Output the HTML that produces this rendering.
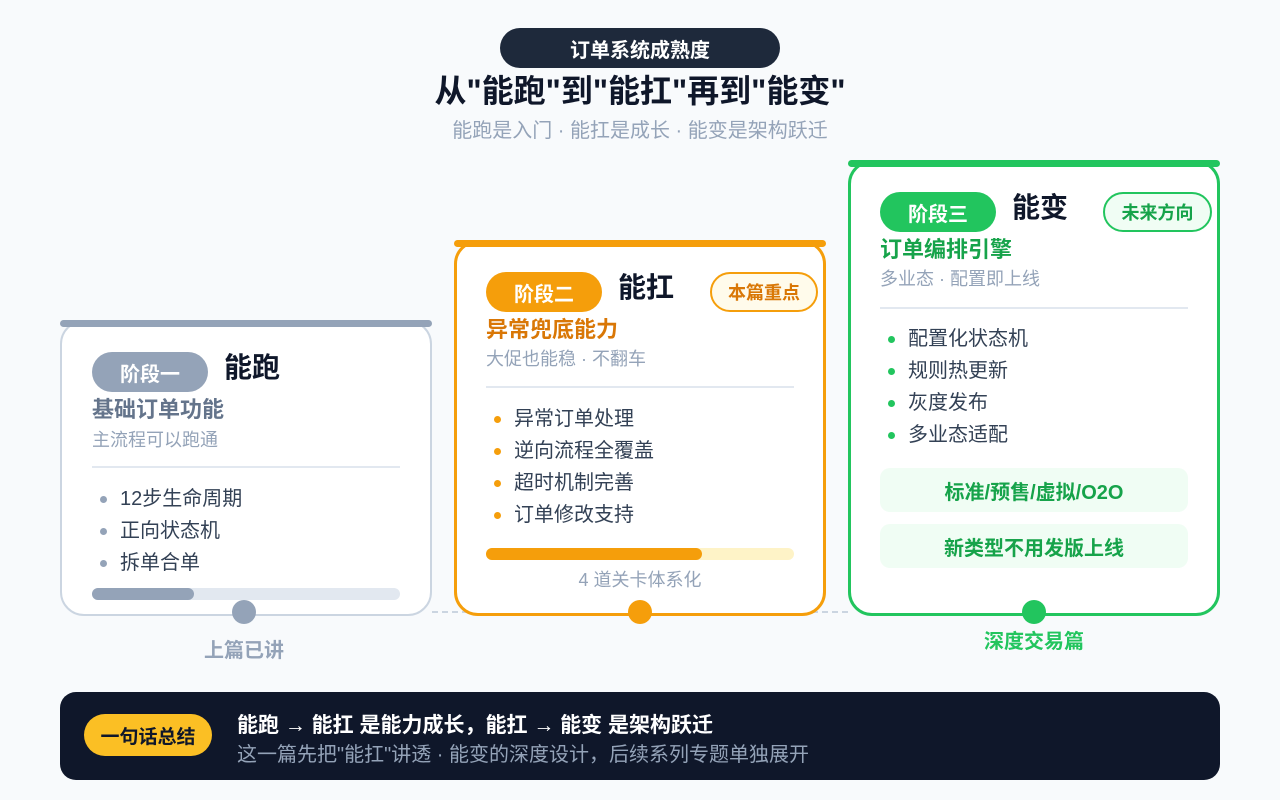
<!DOCTYPE html>
<html><head><meta charset="utf-8"><style>
*{margin:0;padding:0;box-sizing:border-box}
body{width:1280px;height:800px;background:#f8fafc;font-family:"Liberation Sans","Noto Sans CJK SC",sans-serif;position:relative;overflow:hidden}
.a{position:absolute}
.t{position:absolute;white-space:nowrap;line-height:1}
.card{position:absolute;background:#fff;border-radius:24px}
.bar{position:absolute;height:7px;border-radius:4px}
.pill{position:absolute;border-radius:20px;color:#fff;font-weight:bold;font-size:20px;display:flex;align-items:center;justify-content:center}
.dot{position:absolute;width:7px;height:7px;border-radius:50%}
.li{position:absolute;font-size:20px;color:#334155;line-height:1;white-space:nowrap}
</style></head><body>
<div class="a" style="left:500px;top:28px;width:280px;height:40px;border-radius:20px;background:#1e293b;color:#fff;font-weight:bold;font-size:20px;display:flex;align-items:center;justify-content:center">订单系统成熟度</div>
<div class="t" style="left:0;width:1280px;text-align:center;top:75px;font-size:32px;font-weight:bold;color:#0f172a">从"能跑"到"能扛"再到"能变"</div>
<div class="t" style="left:0;width:1280px;text-align:center;top:121px;font-size:20px;color:#94a3b8">能跑是入门 · 能扛是成长 · 能变是架构跃迁</div>

<div class="a" style="left:432px;top:611px;width:416px;border-top:2px dashed #cbd5e1"></div>

<!-- card1 -->
<div class="card" style="left:60px;top:320px;width:372px;height:296px;border:2.5px solid #cbd5e1"></div>
<div class="bar" style="left:60px;top:320px;width:372px;background:#94a3b8"></div>
<div class="pill" style="left:92px;top:352px;width:116px;height:40px;background:#94a3b8">阶段一</div>
<div class="t" style="left:224px;top:354px;font-size:28px;font-weight:bold;color:#0f172a">能跑</div>
<div class="t" style="left:92px;top:399px;font-size:22px;font-weight:bold;color:#64748b">基础订单功能</div>
<div class="t" style="left:92px;top:431px;font-size:18px;color:#94a3b8">主流程可以跑通</div>
<div class="a" style="left:92px;top:466px;width:308px;height:2px;background:#e2e8f0"></div>
<div class="dot" style="left:100px;top:496px;background:#94a3b8"></div><div class="li" style="left:120px;top:489px">12步生命周期</div>
<div class="dot" style="left:100px;top:528px;background:#94a3b8"></div><div class="li" style="left:120px;top:521px">正向状态机</div>
<div class="dot" style="left:100px;top:560px;background:#94a3b8"></div><div class="li" style="left:120px;top:553px">拆单合单</div>
<div class="a" style="left:92px;top:588px;width:308px;height:12px;border-radius:6px;background:#e2e8f0"></div>
<div class="a" style="left:92px;top:588px;width:102px;height:12px;border-radius:6px;background:#94a3b8"></div>
<div class="a" style="left:232px;top:600px;width:24px;height:24px;border-radius:50%;background:#94a3b8"></div>
<div class="t" style="left:184px;top:641px;width:120px;text-align:center;font-size:20px;font-weight:bold;color:#94a3b8">上篇已讲</div>

<!-- card2 -->
<div class="card" style="left:454px;top:240px;width:372px;height:376px;border:3px solid #f59e0b"></div>
<div class="bar" style="left:454px;top:240px;width:372px;background:#f59e0b"></div>
<div class="pill" style="left:486px;top:272px;width:116px;height:40px;background:#f59e0b">阶段二</div>
<div class="t" style="left:618px;top:274px;font-size:28px;font-weight:bold;color:#0f172a">能扛</div>
<div class="a" style="left:710px;top:272px;width:108px;height:40px;border-radius:20px;border:2px solid #f59e0b;background:#fffbeb;color:#d97706;font-weight:bold;font-size:18px;display:flex;align-items:center;justify-content:center">本篇重点</div>
<div class="t" style="left:486px;top:319px;font-size:22px;font-weight:bold;color:#d97706">异常兜底能力</div>
<div class="t" style="left:486px;top:350px;font-size:18px;color:#94a3b8">大促也能稳 · 不翻车</div>
<div class="a" style="left:486px;top:386px;width:308px;height:2px;background:#e2e8f0"></div>
<div class="dot" style="left:494px;top:416px;background:#f59e0b"></div><div class="li" style="left:514px;top:409px">异常订单处理</div>
<div class="dot" style="left:494px;top:448px;background:#f59e0b"></div><div class="li" style="left:514px;top:441px">逆向流程全覆盖</div>
<div class="dot" style="left:494px;top:480px;background:#f59e0b"></div><div class="li" style="left:514px;top:473px">超时机制完善</div>
<div class="dot" style="left:494px;top:512px;background:#f59e0b"></div><div class="li" style="left:514px;top:505px">订单修改支持</div>
<div class="a" style="left:486px;top:548px;width:308px;height:12px;border-radius:6px;background:#fef3c7"></div>
<div class="a" style="left:486px;top:548px;width:216px;height:12px;border-radius:6px;background:#f59e0b"></div>
<div class="t" style="left:486px;top:571px;width:308px;text-align:center;font-size:18px;color:#94a3b8">4 道关卡体系化</div>
<div class="a" style="left:628px;top:600px;width:24px;height:24px;border-radius:50%;background:#f59e0b"></div>

<!-- card3 -->
<div class="card" style="left:848px;top:160px;width:372px;height:456px;border:3px solid #22c55e"></div>
<div class="bar" style="left:848px;top:160px;width:372px;background:#22c55e"></div>
<div class="pill" style="left:880px;top:192px;width:116px;height:40px;background:#22c55e">阶段三</div>
<div class="t" style="left:1012px;top:194px;font-size:28px;font-weight:bold;color:#0f172a">能变</div>
<div class="a" style="left:1103px;top:192px;width:109px;height:40px;border-radius:20px;border:2px solid #22c55e;background:#f0fdf4;color:#16a34a;font-weight:bold;font-size:18px;display:flex;align-items:center;justify-content:center">未来方向</div>
<div class="t" style="left:880px;top:239px;font-size:22px;font-weight:bold;color:#16a34a">订单编排引擎</div>
<div class="t" style="left:880px;top:270px;font-size:18px;color:#94a3b8">多业态 · 配置即上线</div>
<div class="a" style="left:880px;top:307px;width:308px;height:2px;background:#e2e8f0"></div>
<div class="dot" style="left:888px;top:336px;background:#22c55e"></div><div class="li" style="left:908px;top:329px">配置化状态机</div>
<div class="dot" style="left:888px;top:368px;background:#22c55e"></div><div class="li" style="left:908px;top:361px">规则热更新</div>
<div class="dot" style="left:888px;top:400px;background:#22c55e"></div><div class="li" style="left:908px;top:393px">灰度发布</div>
<div class="dot" style="left:888px;top:432px;background:#22c55e"></div><div class="li" style="left:908px;top:425px">多业态适配</div>
<div class="a" style="left:880px;top:468px;width:308px;height:44px;border-radius:10px;background:#f0fdf4;color:#16a34a;font-weight:bold;font-size:20px;display:flex;align-items:center;justify-content:center">标准/预售/虚拟/O2O</div>
<div class="a" style="left:880px;top:524px;width:308px;height:44px;border-radius:10px;background:#f0fdf4;color:#16a34a;font-weight:bold;font-size:20px;display:flex;align-items:center;justify-content:center">新类型不用发版上线</div>
<div class="a" style="left:1022px;top:600px;width:24px;height:24px;border-radius:50%;background:#22c55e"></div>
<div class="t" style="left:974px;top:632px;width:120px;text-align:center;font-size:20px;font-weight:bold;color:#22c55e">深度交易篇</div>

<!-- bottom -->
<div class="a" style="left:60px;top:692px;width:1160px;height:88px;border-radius:16px;background:#0f172a"></div>
<div class="a" style="left:84px;top:714px;width:128px;height:42px;border-radius:21px;background:#fbbf24;color:#0f172a;font-weight:bold;font-size:19px;display:flex;align-items:center;justify-content:center">一句话总结</div>
<div class="t" style="left:237px;top:715px;font-size:21px;font-weight:bold;color:#fff">能跑 → 能扛 是能力成长，能扛 → 能变 是架构跃迁</div>
<div class="t" style="left:237px;top:745px;font-size:20px;color:#94a3b8">这一篇先把"能扛"讲透 · 能变的深度设计，后续系列专题单独展开</div>
</body></html>
